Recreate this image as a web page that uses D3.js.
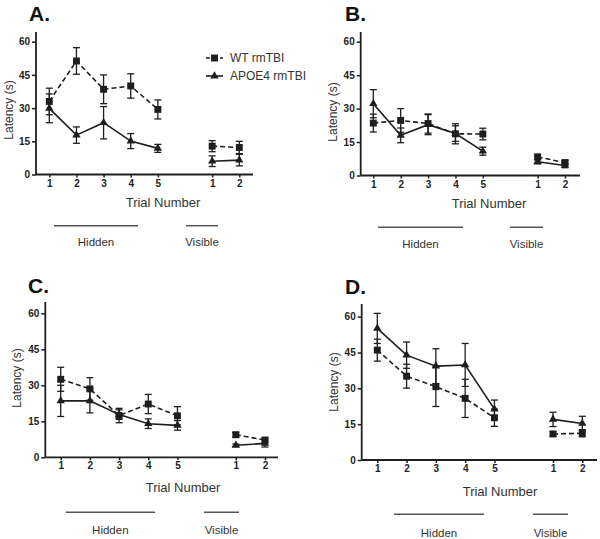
<!DOCTYPE html>
<html>
<head>
<meta charset="utf-8">
<script src="https://cdn.jsdelivr.net/npm/d3@7"></script>
<style>
  html, body { margin: 0; padding: 0; background: #fff; }
  svg { display: block; font-family: "Liberation Sans", Arial, sans-serif; }
</style>
</head>
<body>
<svg id="chart" width="600" height="539"></svg>
<script>
// ---------- data ----------
const seriesNames = ["WT rmTBI", "APOE4 rmTBI"];
const trialLabels = ["1", "2", "3", "4", "5", "1", "2"];
const trialPositions = [1, 2, 3, 4, 5, 7, 8];
const yTicks = [0, 15, 30, 45, 60];
const phaseLabels = ["Hidden", "Visible"];

// Panel A
const wtA      = [33.0, 51.3, 38.5, 40.0, 29.4, 12.8, 12.2];
const wtErrA   = [6.0, 6.0, 6.5, 5.5, 4.3, 2.5, 2.8];
const apoeA    = [29.9, 17.8, 23.4, 15.1, 11.8, 6.0, 6.5];
const apoeErrA = [6.5, 3.7, 7.3, 3.4, 1.8, 2.4, 2.6];
// Panel B
const wtB      = [23.5, 24.7, 23.3, 18.7, 18.6, 8.3, 5.8];
const wtErrB   = [4.0, 5.3, 4.3, 4.5, 2.6, 1.2, 1.0];
const apoeB    = [32.2, 18.0, 22.8, 18.8, 10.9, 6.2, 4.5];
const apoeErrB = [6.3, 3.3, 4.5, 3.5, 1.8, 1.0, 1.0];
// Panel C
const wtC      = [32.5, 28.5, 17.4, 22.2, 17.3, 9.4, 7.2];
const wtErrC   = [5.0, 4.7, 3.0, 4.0, 3.8, 1.0, 1.0];
const apoeC    = [23.5, 23.5, 17.8, 14.0, 13.3, 5.0, 5.8];
const apoeErrC = [6.5, 5.0, 2.0, 2.0, 2.0, 0.5, 1.5];
// Panel D
const wtD      = [46.0, 35.1, 30.7, 25.8, 17.7, 10.9, 11.2];
const wtErrD   = [4.6, 5.0, 8.3, 8.0, 3.6, 1.0, 1.5];
const apoeD    = [55.1, 43.9, 39.3, 39.8, 21.3, 17.0, 15.3];
const apoeErrD = [6.3, 5.5, 7.3, 9.0, 3.8, 3.0, 3.0];

// ---------- layout ----------
const panels = [
  { letter: "A.", lx: 29, ly: 21, wt: wtA, wtErr: wtErrA, apoe: apoeA, apoeErr: apoeErrA,
    xr: [49.3, 239.3], y0: 174.5, y60: 41.7, axL: 36, axR: 253, axT: 32,
    yLabX: 9, yLabY: 110, tnX: 163, tnY: 207,
    hid: [54, 138], vis: [186, 218], brY: 225.7, phY: 246, legend: true },
  { letter: "B.", lx: 345, ly: 21, wt: wtB, wtErr: wtErrB, apoe: apoeB, apoeErr: apoeErrB,
    xr: [373.3, 565], y0: 175.5, y60: 41.7, axL: 360.7, axR: 580, axT: 32,
    yLabX: 333, yLabY: 112, tnX: 489, tnY: 208,
    hid: [378, 463], vis: [510, 543], brY: 227.3, phY: 248, legend: false },
  { letter: "C.", lx: 28, ly: 293, wt: wtC, wtErr: wtErrC, apoe: apoeC, apoeErr: apoeErrC,
    xr: [60.7, 265], y0: 457.3, y60: 313.3, axL: 45.3, axR: 278, axT: 302,
    yLabX: 17, yLabY: 378, tnX: 183, tnY: 492,
    hid: [65.7, 155], vis: [204, 239], brY: 512.3, phY: 534, legend: false },
  { letter: "D.", lx: 345, ly: 294, wt: wtD, wtErr: wtErrD, apoe: apoeD, apoeErr: apoeErrD,
    xr: [377.3, 582.3], y0: 460, y60: 316.7, axL: 361.7, axR: 597, axT: 304,
    yLabX: 334, yLabY: 382, tnX: 500, tnY: 496,
    hid: [394, 484], vis: [533, 568], brY: 514.3, phY: 537, legend: false }
];

const ink = "#1e1e1e";
const grayText = "#333";
const svg = d3.select("#chart");
svg.append("rect").attr("width", 600).attr("height", 539).attr("fill", "#fff");

function squareSym(g, x, y) {
  g.append("path").attr("d", d3.symbol(d3.symbolSquare, 48)()).attr("transform", `translate(${x},${y})`).attr("fill", ink);
}
function triSym(g, x, y) {
  g.append("path").attr("d", d3.symbol(d3.symbolTriangle, 30)()).attr("transform", `translate(${x},${y})`).attr("fill", ink);
}

panels.forEach(p => {
  const g = svg.append("g");
  const x = d3.scaleLinear().domain([1, 8]).range(p.xr);
  const y = d3.scaleLinear().domain([0, 60]).range([p.y0, p.y60]);

  // panel letter
  g.append("text").attr("x", p.lx).attr("y", p.ly).text(p.letter)
    .attr("font-size", 21).attr("font-weight", "bold").attr("fill", "#111");

  // y axis
  const ya = d3.axisLeft(y).tickValues(yTicks).tickSize(4).tickPadding(2);
  const yg = g.append("g").attr("transform", `translate(${p.axL},0)`).call(ya);
  yg.select(".domain").remove();
  yg.append("line").attr("x1", 0).attr("x2", 0).attr("y1", p.axT).attr("y2", p.y0)
    .attr("stroke", ink).attr("stroke-width", 1.8);
  yg.selectAll(".tick line").attr("stroke", ink).attr("stroke-width", 1.5);
  yg.selectAll(".tick text").attr("font-size", 10).attr("font-weight", "bold")
    .attr("fill", "#222").attr("font-family", "Liberation Sans, Arial, sans-serif");

  // x axis
  const xa = d3.axisBottom(x).tickValues(trialPositions)
    .tickFormat((d, i) => trialLabels[i]).tickSize(3).tickPadding(2);
  const xg = g.append("g").attr("transform", `translate(0,${p.y0})`).call(xa);
  xg.select(".domain").remove();
  xg.append("line").attr("x1", p.axL).attr("x2", p.axR).attr("y1", 0).attr("y2", 0)
    .attr("stroke", ink).attr("stroke-width", 1.8);
  xg.selectAll(".tick line").attr("stroke", ink).attr("stroke-width", 1.5);
  xg.selectAll(".tick text").attr("font-size", 10).attr("font-weight", "bold")
    .attr("fill", "#222").attr("font-family", "Liberation Sans, Arial, sans-serif");

  // axis titles
  g.append("text").attr("transform", `translate(${p.yLabX},${p.yLabY}) rotate(-90)`)
    .attr("text-anchor", "middle").attr("dominant-baseline", "central")
    .attr("font-size", 12).attr("fill", grayText).text("Latency (s)");
  g.append("text").attr("x", p.tnX).attr("y", p.tnY).attr("text-anchor", "middle")
    .attr("font-size", 13).attr("fill", grayText).text("Trial Number");

  // phase brackets
  [p.hid, p.vis].forEach((seg, i) => {
    g.append("line").attr("x1", seg[0]).attr("x2", seg[1]).attr("y1", p.brY).attr("y2", p.brY)
      .attr("stroke", "#555").attr("stroke-width", 1.5);
    g.append("text").attr("x", (seg[0] + seg[1]) / 2).attr("y", p.phY).attr("text-anchor", "middle")
      .attr("font-size", 11.5).attr("fill", grayText).text(phaseLabels[i]);
  });

  // series
  const series = [
    { vals: p.wt, errs: p.wtErr, dash: "5,3", sym: squareSym },
    { vals: p.apoe, errs: p.apoeErr, dash: null, sym: triSym }
  ];
  const line = d3.line().x(d => x(d.pos)).y(d => y(d.v));
  series.forEach(s => {
    const pts = s.vals.map((v, i) => ({ pos: trialPositions[i], v, e: s.errs[i] }));
    const groups = [pts.slice(0, 5), pts.slice(5)];
    groups.forEach(gr => {
      g.append("path").datum(gr).attr("d", line).attr("fill", "none")
        .attr("stroke", ink).attr("stroke-width", 1.6)
        .attr("stroke-dasharray", s.dash);
    });
    pts.forEach(d => {
      const cx = x(d.pos);
      g.append("line").attr("x1", cx).attr("x2", cx).attr("y1", y(d.v - d.e)).attr("y2", y(d.v + d.e))
        .attr("stroke", ink).attr("stroke-width", 1.3);
      [d.v - d.e, d.v + d.e].forEach(ev => {
        g.append("line").attr("x1", cx - 3.5).attr("x2", cx + 3.5).attr("y1", y(ev)).attr("y2", y(ev))
          .attr("stroke", ink).attr("stroke-width", 1.3);
      });
      s.sym(g, cx, y(d.v));
    });
  });

  // legend
  if (p.legend) {
    const leg = [{ name: seriesNames[0], dash: "4,3", sym: squareSym, ly: 58 },
                 { name: seriesNames[1], dash: null, sym: triSym, ly: 76 }];
    leg.forEach(l => {
      g.append("line").attr("x1", 206).attr("x2", 223).attr("y1", l.ly).attr("y2", l.ly)
        .attr("stroke", ink).attr("stroke-width", 1.6).attr("stroke-dasharray", l.dash);
      l.sym(g, 214.5, l.ly);
      g.append("text").attr("x", 230).attr("y", l.ly).attr("dominant-baseline", "central")
        .attr("font-size", 12).attr("fill", grayText).text(l.name);
    });
  }
});
</script>
</body>
</html>
